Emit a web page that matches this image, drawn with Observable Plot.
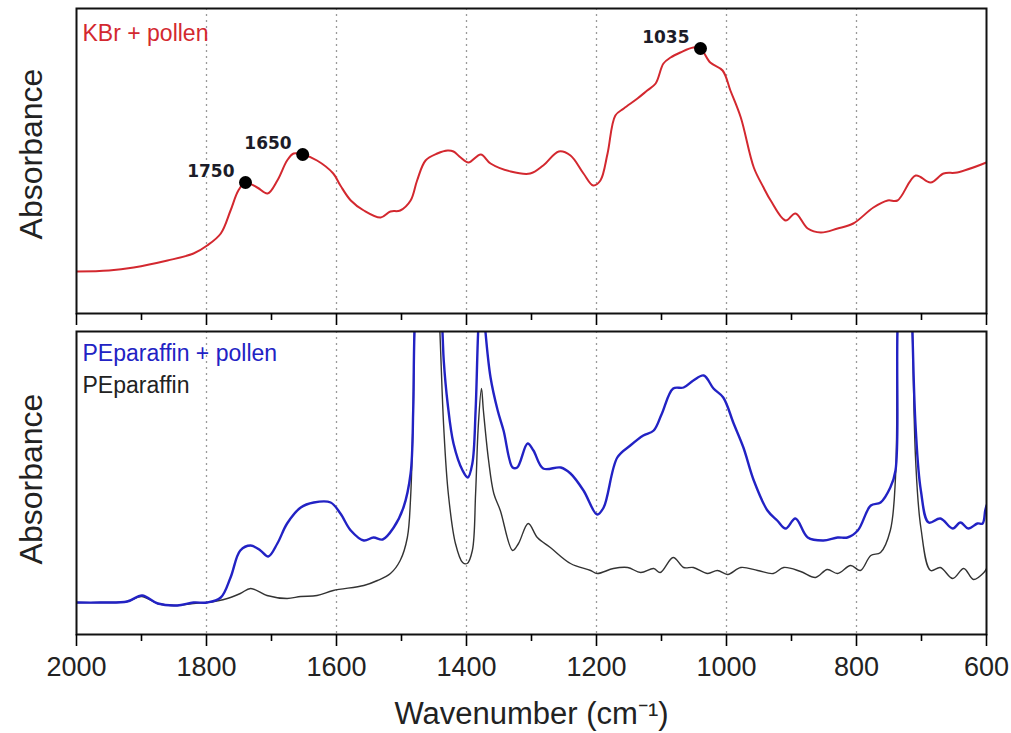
<!DOCTYPE html>
<html>
<head>
<meta charset="utf-8">
<script src="https://cdn.jsdelivr.net/npm/d3@7"></script>
<script src="https://cdn.jsdelivr.net/npm/@observablehq/plot@0.6"></script>
<style>
  html, body { margin: 0; padding: 0; background: #fff; }
  #wrap { position: relative; width: 1011px; height: 733px; background: #fff; overflow: hidden; }
  #top, #bottom { position: absolute; left: 0; }
  #top { top: 0; }
  #bottom { top: 328px; }
</style>
</head>
<body>
<div id="wrap"><div id="top"></div><div id="bottom"></div></div>
<script>
// ---------- data ----------
const kbrWn = [2000,1950,1912,1860,1820,1799,1778,1763,1751,1740,1722,1706,1691,1676,1666,1652,1630,1605,1594,1578,1558,1532,1517,1502,1486,1476,1463,1445,1429,1420,1409,1397,1378,1363,1332,1302,1282,1258,1240,1220,1205,1194,1183,1171,1158,1137,1122,1109,1097,1086,1071,1051,1040,1025,1006,994,978,958,943,932,909,894,875,855,829,805,774,752,737,709,686,666,645,600];
const kbrAbs = [0.42,0.43,0.46,0.53,0.60,0.68,0.80,1.03,1.23,1.31,1.26,1.20,1.33,1.53,1.60,1.59,1.53,1.40,1.28,1.13,1.03,0.96,1.02,1.03,1.13,1.33,1.53,1.60,1.63,1.62,1.56,1.51,1.59,1.50,1.42,1.40,1.48,1.62,1.58,1.40,1.28,1.33,1.60,1.98,2.05,2.15,2.23,2.30,2.50,2.56,2.61,2.66,2.65,2.51,2.43,2.23,1.96,1.46,1.26,1.13,0.93,1.00,0.85,0.81,0.85,0.90,1.06,1.13,1.13,1.38,1.31,1.40,1.41,1.51];

const peakWn = [1740, 1652, 1040];
const peakAbs = [1.31, 1.59, 2.65];
const peakLabels = ["1750", "1650", "1035"];

const pePollenWn = [2000,1963,1922,1899,1875,1845,1820,1799,1778,1763,1748,1732,1717,1705,1691,1676,1655,1635,1609,1594,1578,1558,1543,1529,1512,1497,1486,1482,1480,1460,1437,1435,1429,1420,1406,1398,1391,1386,1382,1377,1371,1363,1352,1343,1329,1322,1306,1297,1282,1255,1240,1220,1199,1189,1168,1148,1128,1112,1100,1082,1066,1051,1035,1020,1005,989,974,958,937,922,909,894,875,851,829,814,798,778,763,748,740,737,725,714,709,701,689,671,652,640,628,614,606,602,600];
const pePollenAbs = [0.32,0.32,0.33,0.39,0.31,0.29,0.32,0.32,0.37,0.57,0.84,0.89,0.84,0.78,0.91,1.11,1.27,1.32,1.32,1.21,1.04,0.94,0.97,0.95,1.07,1.27,1.61,2.24,3.04,6.0,3.03,2.74,2.31,1.91,1.64,1.57,1.71,2.24,3.04,3.6,3.04,2.57,2.24,2.04,1.67,1.67,1.91,1.84,1.66,1.67,1.61,1.44,1.20,1.27,1.77,1.89,1.99,2.04,2.20,2.46,2.47,2.54,2.59,2.46,2.37,2.11,1.87,1.54,1.24,1.14,1.06,1.16,0.97,0.94,0.97,0.97,1.04,1.29,1.32,1.47,1.64,3.04,6.0,3.04,2.07,1.44,1.12,1.16,1.06,1.12,1.06,1.11,1.11,1.24,1.29];

const peWn = [2000,1963,1922,1900,1875,1845,1820,1799,1768,1748,1732,1707,1676,1655,1630,1605,1558,1537,1517,1502,1491,1486,1482,1480,1460,1441,1435,1428,1417,1406,1399,1391,1386,1382,1377,1374,1366,1358,1348,1329,1320,1305,1291,1271,1240,1209,1199,1174,1152,1132,1112,1102,1082,1066,1051,1029,1014,998,978,952,928,912,886,863,845,829,809,794,778,763,748,740,737,725,714,709,701,686,671,652,635,620,604,600];
const peAbs = [0.32,0.32,0.33,0.38,0.31,0.29,0.31,0.32,0.36,0.41,0.46,0.39,0.36,0.38,0.39,0.44,0.49,0.54,0.61,0.74,0.97,1.37,2.24,3.04,6.0,3.04,2.07,1.41,0.91,0.72,0.71,0.84,1.41,2.07,2.46,2.24,1.74,1.41,1.24,0.84,0.91,1.11,0.97,0.87,0.71,0.64,0.61,0.66,0.67,0.62,0.66,0.62,0.77,0.67,0.67,0.61,0.64,0.60,0.67,0.64,0.61,0.67,0.63,0.57,0.65,0.61,0.69,0.64,0.79,0.82,1.04,1.57,3.04,6.0,3.04,1.74,1.07,0.64,0.67,0.56,0.66,0.55,0.62,0.66];

const gridWn = [1800, 1600, 1400, 1200, 1000, 800];
const majorTicks = [2000, 1800, 1600, 1400, 1200, 1000, 800, 600];
const minorTicks = [1900, 1700, 1500, 1300, 1100, 900, 700];
const tickLabels = ["2000", "1800", "1600", "1400", "1200", "1000", "800", "600"];

const yTitle = "Absorbance";
const xTitle = "Wavenumber (cm\u207B\u00B9)";
const topLabel = "KBr + pollen";
const bottomLabels = ["PEparaffin + pollen", "PEparaffin"];

// ---------- helpers ----------
const toRows = (wn, ab) => wn.map((w, i) => ({wn: w, abs: ab[i]}));
const kbr = toRows(kbrWn, kbrAbs);
const peaks = toRows(peakWn, peakAbs).map((d, i) => ({...d, label: peakLabels[i]}));
const pePollen = toRows(pePollenWn, pePollenAbs);
const pe = toRows(peWn, peAbs);

const RED = "#d3282f", BLUE = "#2222c4", DARK = "#333333";
const SANS = "'Liberation Sans', Arial, sans-serif";
const NARROW = "'Liberation Sans Narrow', 'Arial Narrow', 'Liberation Sans', Arial, sans-serif";
const tickLabelMap = new Map(majorTicks.map((t, i) => [t, tickLabels[i]]));
const CURVE = "catmull-rom";

const W = 1011, ML = 76, MR = 25;

function gridMarks() {
  return Plot.ruleX(gridWn, {stroke: "#9a9a9a", strokeWidth: 1.3, strokeDasharray: "2,4"});
}
function ylabel(dy) {
  return Plot.text([yTitle], {frameAnchor: "left", dx: -45, dy, rotate: -90, textAnchor: "middle",
    lineAnchor: "middle", fontSize: 32, fontFamily: SANS, fill: "#222"});
}

// ---------- top panel ----------
const topPlot = Plot.plot({
  width: W, height: 328,
  marginLeft: ML, marginRight: MR, marginTop: 8, marginBottom: 15,
  style: {background: "transparent", fontFamily: SANS, overflow: "visible"},
  x: {domain: [2000, 600]},
  y: {domain: [0, 3.05], axis: null},
  marks: [
    gridMarks(),
    Plot.line(kbr, {x: "wn", y: "abs", stroke: RED, strokeWidth: 2, curve: CURVE, clip: true}),
    Plot.dot(peaks, {x: "wn", y: "abs", r: 6.5, fill: "black"}),
    Plot.text(peaks, {x: "wn", y: "abs", text: "label", textAnchor: "end", dx: -11, dy: -11,
      fontSize: 17, fontWeight: "bold", fontFamily: "'DejaVu Sans', sans-serif", fill: "#1c1c28"}),
    Plot.frame({stroke: "#111", strokeWidth: 2}),
    Plot.axisX({anchor: "bottom", ticks: majorTicks, tickSize: 12, tickFormat: () => "", strokeWidth: 1.6, label: null}),
    Plot.axisX({anchor: "bottom", ticks: minorTicks, tickSize: 7, tickFormat: () => "", strokeWidth: 1.6, label: null}),
    Plot.text([topLabel], {frameAnchor: "top-left", dx: 6, dy: 25, textAnchor: "start", lineAnchor: "middle",
      fontSize: 23, fontFamily: SANS, fill: RED}),
    ylabel(-7)
  ]
});
document.getElementById("top").appendChild(topPlot);

// ---------- bottom panel ----------
const bottomPlot = Plot.plot({
  width: W, height: 405,
  marginLeft: ML, marginRight: MR, marginTop: 3, marginBottom: 99,
  style: {background: "transparent", fontFamily: NARROW, overflow: "visible"},
  x: {domain: [2000, 600]},
  y: {domain: [0, 3.03], axis: null},
  marks: [
    gridMarks(),
    Plot.line(pe, {x: "wn", y: "abs", stroke: DARK, strokeWidth: 1.4, curve: CURVE, clip: true}),
    Plot.line(pePollen, {x: "wn", y: "abs", stroke: BLUE, strokeWidth: 2.4, curve: CURVE, clip: true}),
    Plot.frame({stroke: "#111", strokeWidth: 2}),
    Plot.axisX({anchor: "bottom", ticks: majorTicks, tickSize: 12, tickPadding: 10,
      tickFormat: d => tickLabelMap.get(d), strokeWidth: 1.6, fontSize: 27, fill: "#222", label: null}),
    Plot.axisX({anchor: "bottom", ticks: minorTicks, tickSize: 7, tickFormat: () => "", strokeWidth: 1.6, label: null}),
    Plot.text([bottomLabels[0]], {frameAnchor: "top-left", dx: 6, dy: 22, textAnchor: "start", lineAnchor: "middle",
      fontSize: 23, fontFamily: SANS, fill: BLUE}),
    Plot.text([bottomLabels[1]], {frameAnchor: "top-left", dx: 6, dy: 54, textAnchor: "start", lineAnchor: "middle",
      fontSize: 23, fontFamily: SANS, fill: "#222"}),
    Plot.text([xTitle], {frameAnchor: "bottom", dy: 80, textAnchor: "middle", lineAnchor: "middle",
      fontSize: 31, fontFamily: SANS, fill: "#222"}),
    ylabel(-4)
  ]
});
document.getElementById("bottom").appendChild(bottomPlot);
</script>
</body>
</html>
